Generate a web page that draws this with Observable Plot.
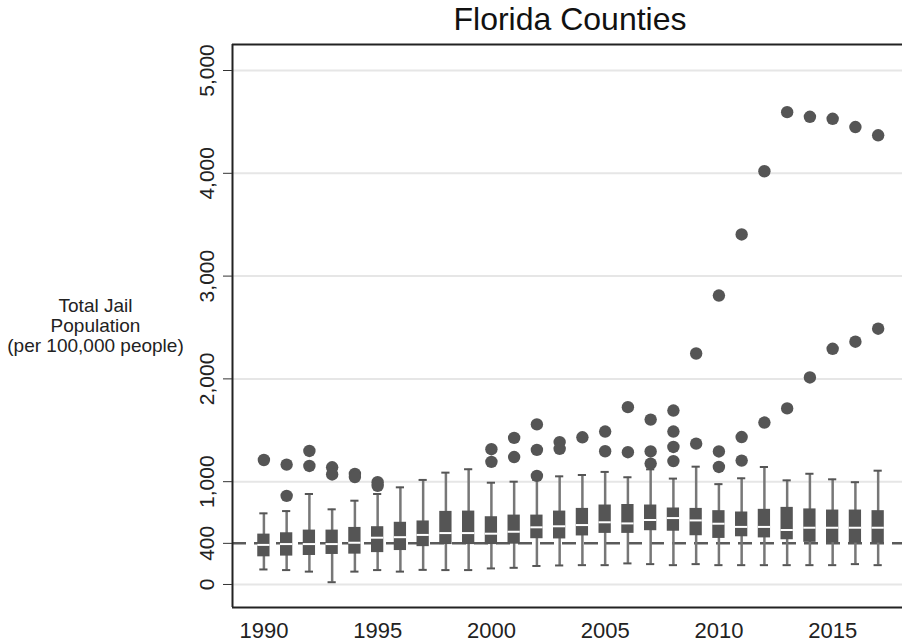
<!DOCTYPE html>
<html>
<head>
<meta charset="utf-8">
<script src="https://cdn.jsdelivr.net/npm/d3@7"></script>
<script src="https://cdn.jsdelivr.net/npm/@observablehq/plot@0.6"></script>
<style>
  html, body { margin: 0; padding: 0; background: white; }
</style>
</head>
<body>
<div id="chart"></div>
<script>
const years = [1990, 1991, 1992, 1993, 1994, 1995, 1996, 1997, 1998, 1999,
               2000, 2001, 2002, 2003, 2004, 2005, 2006, 2007, 2008, 2009,
               2010, 2011, 2012, 2013, 2014, 2015, 2016, 2017];
const whiskerLow  = [146, 140, 125, 22, 125, 140, 125, 142, 140, 140,
                     156, 162, 180, 185, 188, 188, 205, 198, 188, 198,
                     188, 188, 188, 188, 188, 188, 198, 188];
const q1          = [269, 276, 282, 292, 295, 310, 330, 368, 388, 388,
                     388, 392, 445, 443, 472, 497, 497, 523, 518, 474,
                     448, 464, 453, 435, 410, 407, 403, 403];
const median      = [385, 393, 393, 393, 406, 455, 460, 482, 500, 500,
                     494, 513, 556, 566, 578, 605, 594, 627, 646, 623,
                     591, 560, 560, 530, 552, 552, 552, 552];
const q3          = [490, 503, 529, 529, 555, 562, 605, 618, 711, 714,
                     659, 675, 675, 714, 740, 773, 778, 773, 744, 740,
                     718, 705, 731, 750, 735, 724, 724, 718];
const whiskerHigh = [692, 714, 880, 731, 815, 880, 945, 1017, 1088, 1121,
                     990, 1000, 1016, 1052, 1065, 1095, 1043, 1120, 1030, 1146,
                     976, 1033, 1143, 1013, 1077, 1023, 995, 1107];
const outliers = [
  [1211], [1166, 862], [1299, 1153], [1140, 1070], [1075, 1045], [995, 960],
  [], [], [], [],
  [1316, 1193], [1426, 1240], [1557, 1309, 1056], [1385, 1320], [1432],
  [1488, 1296], [1725, 1287], [1604, 1294, 1176], [1692, 1488, 1338, 1200],
  [2247, 1370], [2811, 1294, 1143], [3405, 1434, 1205], [4020, 1575],
  [4595, 1713], [4550, 2014], [4530, 2293], [4450, 2362], [4370, 2488]
];
const yTicks = [0, 400, 1000, 2000, 3000, 4000, 5000];
const xTicks = [1990, 1995, 2000, 2005, 2010, 2015];
const refLine = 400;
const title = "Florida Counties";
const yLabel = "Total Jail\nPopulation\n(per 100,000 people)";

const boxes = years.map((year, i) => ({
  year, lo: whiskerLow[i], q1: q1[i], med: median[i], q3: q3[i], hi: whiskerHigh[i]
}));
const dots = years.flatMap((year, i) => outliers[i].map(value => ({year, value})));

const xDomain = [1988.62, 2018.07];
const yDomain = [-224, 5253];
const halfBox = 0.27;
const halfCap = 0.18;
const dark = "#555555";
const fmt = d3.format(",");

const chart = Plot.plot({
  width: 902,
  height: 643,
  marginLeft: 232,
  marginRight: 0,
  marginTop: 44,
  marginBottom: 36,
  style: {fontFamily: "'Liberation Sans', Arial, sans-serif", background: "white", color: "#222"},
  x: {domain: xDomain},
  y: {domain: yDomain},
  marks: [
    Plot.ruleY(yTicks.filter(v => v !== refLine), {stroke: "#e6e6e6", strokeWidth: 2}),
    Plot.ruleY([refLine], {stroke: "#5a5a5a", strokeWidth: 2.5, strokeDasharray: "14,8"}),
    Plot.ruleX(boxes, {x: "year", y1: "lo", y2: "hi", stroke: "#777", strokeWidth: 2.5}),
    Plot.ruleY(boxes, {x1: d => d.year - halfCap, x2: d => d.year + halfCap, y: "lo", stroke: dark, strokeWidth: 2}),
    Plot.ruleY(boxes, {x1: d => d.year - halfCap, x2: d => d.year + halfCap, y: "hi", stroke: dark, strokeWidth: 2}),
    Plot.rect(boxes, {x1: d => d.year - halfBox, x2: d => d.year + halfBox, y1: "q1", y2: "q3", fill: dark}),
    Plot.ruleY(boxes, {x1: d => d.year - halfBox, x2: d => d.year + halfBox, y: "med", stroke: "white", strokeWidth: 2}),
    Plot.dot(dots, {x: "year", y: "value", r: 6.2, fill: dark}),
    Plot.ruleX([xDomain[0]], {stroke: "#222", strokeWidth: 2}),
    Plot.ruleY(yDomain, {stroke: "#222", strokeWidth: 2}),
    Plot.axisY(yTicks, {tickSize: 9, tickFormat: () => "", stroke: "#333", label: null}),
    Plot.text(yTicks, {y: d => d, frameAnchor: "left", dx: -25.5, rotate: -90, text: d => fmt(d), fontSize: 21, fill: "#222", textAnchor: "middle", lineAnchor: "middle"}),
    Plot.axisX(xTicks, {tickSize: 0, tickPadding: 15, fontSize: 22, tickFormat: d => String(d), label: null, fill: "#222"}),
    Plot.text([yLabel], {frameAnchor: "left", dx: -137, fontSize: 19, lineHeight: 1.05, textAnchor: "middle", lineAnchor: "middle", fill: "#222"}),
    Plot.text([title], {frameAnchor: "top", dx: 2.5, dy: -24.3, fontSize: 32, fill: "#111", lineAnchor: "middle"})
  ]
});
document.getElementById("chart").appendChild(chart);
</script>
</body>
</html>
